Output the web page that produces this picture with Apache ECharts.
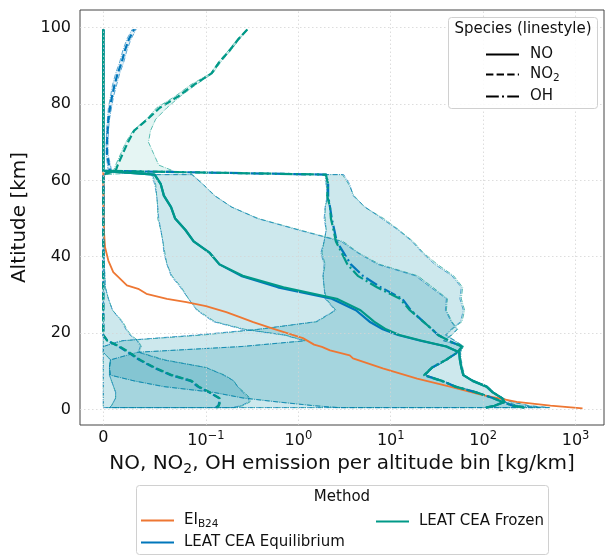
<!DOCTYPE html>
<html><head><meta charset="utf-8">
<script src="https://cdn.jsdelivr.net/npm/echarts@6/dist/echarts.min.js"></script>
<style>html,body{margin:0;padding:0;background:#fff}#c{width:612px;height:556px}</style>
</head><body><div id="c"></div>
<script>
// ---------------- data ----------------
const altitude = [99.5, 97, 94, 91, 88, 85, 82, 79, 76, 73, 70, 67, 64, 62.5, 61.5, 59, 56, 53, 50, 47, 44, 41, 38, 35, 32, 29, 26, 23, 21, 19.5, 18, 16.5, 15, 13, 11, 9, 7.5, 6, 4.5, 3, 2, 1, 0.5];

const frozenNO = [0,0,0,0,0,0,0,0,0,0, 0,0,0,0,0.050,0.056,0.059,0.066,0.070,0.080, 0.088,0.11,0.14,0.25,0.69,2.6,4.7,6.6,8.9,12.4, 21.7,40,55,56,58,61,77,109,127,160, 170,133,107];
const equilNO  = [0,0,0,0,0,0,0,0,0,0, 0,0,0,0,0.050,0.056,0.059,0.066,0.070,0.080, 0.088,0.11,0.14,0.24,0.60,2.3,4.2,5.9,8.2,12.0, 21.0,40,55,56,58,61,77,109,127,160, 170,133,107];
const frozenNOlo = [null,null,null,null,null,null,null,null,null,null, null,null,null,null,0.048,0.051,0.052,0.053,0.053,0.056, 0.058,0.060,0.062,0.067,0.076,0.083,0.092,0.125,0.265,0.72, 1.2,0.25,0.034,0.007,0.006,0.007,0.03,0.06,0.12,0.26, 0.6,1.5,2.8];
const frozenNOhi = [null,null,null,null,null,null,null,null,null,null, null,null,null,null,0.087,0.097,0.125,0.19,0.37,1.04, 3.05,4.5,7.6,19.6,28.5,41,40,46,53,46, 38,61,57,58,60,63,80,112,132,165, 205,320,530];
const equilNOlo = [null,null,null,null,null,null,null,null,null,null, null,null,null,null,0.047,0.050,0.052,0.053,0.054,0.056, 0.058,0.059,0.062,0.066,0.075,0.083,0.091,0.12,0.25,0.7, 1.15,0.24,0.033,0.007,0.006,0.007,0.03,0.058,0.12,0.25, 0.58,1.45,2.7];
const equilNOhi = [null,null,null,null,null,null,null,null,null,null, null,null,null,null,0.086,0.097,0.123,0.19,0.36,1.0, 2.9,4.4,7.2,18.5,27,40,39,45,52,45, 37,60,56,57,59,62,79,110,130,162, 200,310,520];

const frozenNO2 = [0.28,0.225,0.18,0.14,0.115,0.088,0.073,0.055,0.043,0.030, 0.024,0.019,0.014,0.012,0,0,0,0,0,0, 0,0,0,0,0,0,0,0,0,0, 0.004,0.016,0.025,0.036,0.050,0.067,0.086,0.093,0.11,0.14, 0.142,0.138,0.13];
const equilNO2  = [0.030,0.025,0.021,0.018,0.014,0.011,0.0085,0.0065,0.005,0.0042, 0.0036,0.0036,0.0055,0.0065,0,0,0,0,0,0, 0,0,0,0,0,0,0,0,0,0, 0.004,0.015,0.024,0.035,0.049,0.066,0.085,0.092,0.108,0.138, 0.14,0.136,0.128];
const frozenNO2lo = [0.275,0.22,0.175,0.137,0.112,0.085,0.07,0.052,0.042,0.029, 0.022,0.017,0.012,0.010,0,0,0,0,0,0, 0,0,0,0,0,0,0,0,0,0, 0,0,0,0.007,0.006,0.006,0.008,0.01,0.012,0.012, 0.01,0.008,0.006];
const frozenNO2hi = [0.285,0.23,0.185,0.145,0.118,0.09,0.075,0.062,0.051,0.046, 0.044,0.049,0.054,0.068,0.001,0.001,0.001,0.001,0.001,0.001, 0.001,0.001,0.001,0.0015,0.002,0.005,0.009,0.019,0.023,0.027, 0.034,0.037,0.035,0.06,0.1,0.16,0.2,0.22,0.26,0.3, 0.3,0.25,0.2];
const equilNO2lo = [0.028,0.023,0.019,0.016,0.012,0.009,0.007,0.005,0.004,0.0033, 0.0028,0.0028,0.004,0.005,0,0,0,0,0,0, 0,0,0,0,0,0,0,0,0,0, 0,0,0,0.007,0.006,0.006,0.008,0.01,0.012,0.012, 0.01,0.008,0.006];
const equilNO2hi = [0.032,0.027,0.023,0.020,0.016,0.013,0.010,0.008,0.006,0.005, 0.0045,0.0045,0.007,0.008,0.001,0.001,0.001,0.001,0.001,0.001, 0.001,0.001,0.001,0.0015,0.002,0.005,0.009,0.018,0.022,0.026, 0.033,0.036,0.034,0.058,0.1,0.155,0.2,0.22,0.25,0.29, 0.29,0.24,0.19];

const frozenOH = [0,0,0,0,0,0,0,0,0,0, 0,0,0,0,1.99,2.1,2.05,2.2,2.25,2.4, 2.55,2.95,3.4,4.4,7.1,12.6,16.1,22.5,28,32.5, 42.5,59,53,39.5,28,23,35.6,50,84,127, 162,210,280];
const equilOH  = [0,0,0,0,0,0,0,0,0,0, 0,0,0,0,2.0,2.1,2.1,2.2,2.3,2.45, 2.6,3.1,3.7,5.0,7.8,13.3,16.5,22.5,28,32.5, 42.5,59,53,39.5,28,23,35.6,50,84,127, 162,210,280];
const frozenOHlo = [null,null,null,null,null,null,null,null,null,null, null,null,null,null,2.0,2.0,2.1,1.95,1.95,2.0, 1.9,1.8,1.95,1.85,1.9,2.0,2.55,1.6,0.38,0.097, 0.019,0,0,0,0,0,0,0,0,0, 0,0,0];
const frozenOHhi = [null,null,null,null,null,null,null,null,null,null, null,null,null,null,3.0,3.5,4.0,5.2,8.4,12.3, 17.5,22.6,32,48,60,58,63,59,46,40, 50,62,54,41,29,24,37,52,87,132, 170,250,410];
const equilOHlo = [null,null,null,null,null,null,null,null,null,null, null,null,null,null,1.95,2.0,2.05,1.95,1.9,2.0, 1.9,1.75,1.9,1.85,1.9,1.95,2.5,1.55,0.36,0.09, 0.017,0,0,0,0,0,0,0,0,0, 0,0,0];
const equilOHhi = [null,null,null,null,null,null,null,null,null,null, null,null,null,null,3.1,3.6,3.9,5.3,8.0,12.0, 17,22,30,46,58,56,61,57,45,39, 49,61,54,41,29,24,37,52,86,130, 168,245,400];

const eiAlt = [99.5, 60, 50, 46, 42.5, 39, 36, 33.8, 32.5, 31.6, 30.3, 29, 28.1, 27.1, 25.5, 24.2, 22.9, 21.2, 18.7, 17, 16.4, 15.5, 14.2, 13.4, 10.8, 8.1, 6, 3.8, 2, 1, 0.3];
const eiNO  = [0, 0, 0.0003, 0.0008, 0.0017, 0.0049, 0.0097, 0.018, 0.023, 0.034, 0.042, 0.062, 0.081, 0.1, 0.166, 0.233, 0.325, 0.53, 1.12, 1.48, 1.8, 2.2, 3.6, 3.9, 8.2, 19.3, 43.7, 99, 231, 535, 1190];

const xTicks = [0, 0.1, 1, 10, 100, 1000];
const xTickLabels = ['0', '10{s|\u22121}', '10{s|0}', '10{s|1}', '10{s|2}', '10{s|3}'];
const yTicks = [0, 20, 40, 60, 80, 100];

// ---------------- symlog scale (linthresh 0.1, linscale 1) ----------------
const LINTHRESH = 0.1, LINSCALE = 1 / (1 - 0.1);
function symlog(x) {
  if (x == null) return null;
  const a = Math.abs(x), s = x < 0 ? -1 : 1;
  return a <= LINTHRESH ? s * a / LINTHRESH * LINSCALE : s * (LINSCALE + Math.log10(a / LINTHRESH));
}
const xTicksT = xTicks.map(symlog);

const TEAL = '#009988', BLUE = '#0077BB', ORANGE = '#EE7733';
function rgba(hex, a) {
  const n = parseInt(hex.slice(1), 16);
  return 'rgba(' + (n >> 16 & 255) + ',' + (n >> 8 & 255) + ',' + (n & 255) + ',' + a + ')';
}
const DASH = [7.4, 3.2], DASHDOT = [12.8, 3.2, 2, 3.2], THIN_DASHDOT = [5.1, 1.3, 0.8, 1.3];
const FONT = 'DejaVu Sans';

function bandSeries(id, lo, hi, color, offset) {
  return {
    type: 'custom', id: id, name: id, silent: true, clip: true, z: 1,
    data: [[0, 0]],
    renderItem: function (params, api) {
      const pts = [];
      for (let i = 0; i < altitude.length; i++) if (lo[i] != null) pts.push(api.coord([symlog(lo[i]), altitude[i]]));
      for (let i = altitude.length - 1; i >= 0; i--) if (hi[i] != null) pts.push(api.coord([symlog(hi[i]), altitude[i]]));
      return { type: 'polygon', shape: { points: pts },
        style: { fill: rgba(color, 0.1), stroke: rgba(color, 0.8), lineWidth: 0.8, lineDash: THIN_DASHDOT, lineDashOffset: offset || 0 } };
    }
  };
}
function lineSeries(name, alts, vals, color, dash, width, offset) {
  return {
    type: 'line', name: name, silent: true, symbol: 'none', showSymbol: false, z: 3,
    data: alts.map(function (a, i) { return [symlog(vals[i]), a]; }),
    lineStyle: { color: color, width: width || 2.2, type: dash, dashOffset: offset || 0, cap: 'butt', join: 'round' },
    itemStyle: { color: color }
  };
}
function speciesSeries(name, dash) {
  return { type: 'line', name: name, data: [], symbol: 'none', silent: true,
    lineStyle: { color: '#000', width: 2.8, type: dash, cap: 'butt' }, itemStyle: { color: '#000' } };
}

const gridMarks = [];
xTicksT.forEach(function (v) { gridMarks.push({ xAxis: v }); });
yTicks.forEach(function (v) { gridMarks.push({ yAxis: v }); });

const LFS = 15;
const richSub = { n: { fontSize: LFS, fontFamily: FONT, color: '#111' }, s: { fontSize: 10.5, fontFamily: FONT, color: '#111', padding: [8, 0, 0, 0] } };
const legendCommon = { orient: 'vertical', padding: 0, itemWidth: 33, itemHeight: 14, itemGap: 5, selectedMode: false, z: 12,
  itemStyle: { opacity: 0 } };

const chart = echarts.init(document.getElementById('c'), null, { renderer: 'canvas' });
chart.setOption({
  animation: false,
  backgroundColor: '#fff',
  grid: { left: 80, right: 8, top: 10, bottom: 131, show: true, borderColor: '#444', borderWidth: 1, backgroundColor: '#fff' },
  xAxis: {
    type: 'value', min: -0.2522, max: 5.419,
    name: 'NO, NO{s|2}, OH emission per altitude bin [kg/km]', nameLocation: 'middle', nameGap: 26,
    nameTextStyle: { fontSize: 20, fontFamily: FONT, color: '#111', rich: { s: { fontSize: 14, fontFamily: FONT, color: '#111', padding: [10, 0, 0, 0] } } },
    axisLine: { show: false }, axisTick: { show: false, customValues: xTicksT },
    splitLine: { show: false },
    axisLabel: {
      customValues: xTicksT, margin: 5, fontSize: 16, fontFamily: FONT, color: '#111',
      formatter: function (v) {
        let best = 0;
        for (let i = 0; i < xTicksT.length; i++) if (Math.abs(xTicksT[i] - v) < Math.abs(xTicksT[best] - v)) best = i;
        return xTickLabels[best];
      },
      rich: { s: { fontSize: 11.5, fontFamily: FONT, color: '#111', padding: [0, 0, 10, 0] } }
    }
  },
  yAxis: {
    type: 'value', min: -4.05, max: 104.6,
    name: 'Altitude [km]', nameLocation: 'middle', nameGap: 46,
    nameTextStyle: { fontSize: 20, fontFamily: FONT, color: '#111' },
    axisLine: { show: false }, axisTick: { show: false, customValues: yTicks }, splitLine: { show: false },
    axisLabel: { customValues: yTicks, margin: 9, fontSize: 16, fontFamily: FONT, color: '#111' }
  },
  legend: [
    Object.assign({}, legendCommon, { data: ['EI_B24', 'LEAT CEA Equilibrium'], left: 140, top: 513,
      textStyle: { fontSize: LFS, fontFamily: FONT, color: '#111', padding: [0, 0, 0, 5], rich: richSub },
      formatter: function (n) { return n === 'EI_B24' ? '{n|EI}{s|B24}' : '{n|' + n + '}'; } }),
    Object.assign({}, legendCommon, { data: ['LEAT CEA Frozen'], left: 375, top: 514,
      textStyle: { fontSize: LFS, fontFamily: FONT, color: '#111', padding: [0, 0, 0, 5] } }),
    Object.assign({}, legendCommon, { data: ['NO', 'NO2', 'OH'], left: 485, top: 47,
      textStyle: { fontSize: LFS, fontFamily: FONT, color: '#111', padding: [0, 0, 0, 6], rich: richSub },
      formatter: function (n) { return n === 'NO2' ? '{n|NO}{s|2}' : '{n|' + n + '}'; } })
  ],
  graphic: [
    { type: 'rect', z: 11, shape: { x: 448.5, y: 17.5, width: 149, height: 91, r: 3 }, style: { fill: 'rgba(255,255,255,0.85)', stroke: '#d0d0d0', lineWidth: 1 } },
    { type: 'text', z: 12, x: 523, y: 29, style: { text: 'Species (linestyle)', fontSize: LFS, fontFamily: FONT, fill: '#111', align: 'center', verticalAlign: 'middle' } },
    { type: 'rect', z: 11, shape: { x: 136.5, y: 485.5, width: 412, height: 69, r: 3 }, style: { fill: '#fff', stroke: '#d0d0d0', lineWidth: 1 } },
    { type: 'text', z: 12, x: 342, y: 497, style: { text: 'Method', fontSize: LFS, fontFamily: FONT, fill: '#111', align: 'center', verticalAlign: 'middle' } }
  ],
  series: [
    { type: 'line', name: 'grid', data: [], z: 0, silent: true,
      markLine: { silent: true, symbol: 'none', label: { show: false }, animation: false,
        lineStyle: { color: '#d4d4d4', width: 0.8, type: [1.5, 2.5] }, data: gridMarks } },
    bandSeries('band-frozen-NO2', frozenNO2lo, frozenNO2hi, TEAL, 0),
    bandSeries('band-equil-NO2', equilNO2lo, equilNO2hi, BLUE, 3),
    bandSeries('band-frozen-OH', frozenOHlo, frozenOHhi, TEAL, 0),
    bandSeries('band-equil-OH', equilOHlo, equilOHhi, BLUE, 3),
    bandSeries('band-frozen-NO', frozenNOlo, frozenNOhi, TEAL, 0),
    bandSeries('band-equil-NO', equilNOlo, equilNOhi, BLUE, 3),
    lineSeries('EI_B24', eiAlt, eiNO, ORANGE, 'solid', 1.8),
    lineSeries('LEAT CEA Equilibrium', altitude, equilNO, BLUE, 'solid'),
    lineSeries('LEAT CEA Equilibrium', altitude, equilNO2, BLUE, DASH, 2.2, 5),
    lineSeries('LEAT CEA Equilibrium', altitude, equilOH, BLUE, DASHDOT, 2.2, 8),
    lineSeries('LEAT CEA Frozen', altitude, frozenNO, TEAL, 'solid'),
    lineSeries('LEAT CEA Frozen', altitude, frozenNO2, TEAL, DASH),
    lineSeries('LEAT CEA Frozen', altitude, frozenOH, TEAL, DASHDOT),
    speciesSeries('NO', 'solid'),
    speciesSeries('NO2', DASH),
    speciesSeries('OH', DASHDOT)
  ]
});
</script>
</body></html>
